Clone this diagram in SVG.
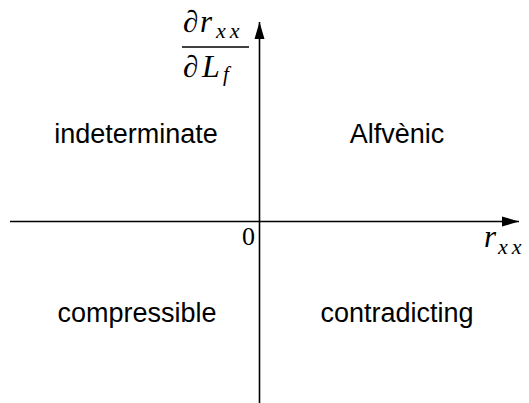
<svg xmlns="http://www.w3.org/2000/svg" width="529" height="403" viewBox="0 0 529 403">
<style>
.lbl{font-family:"Liberation Sans",Arial,sans-serif;font-size:27px;fill:#000;text-anchor:middle}
.m{font-family:"Liberation Serif","DejaVu Serif",serif;font-style:italic;fill:#000}
.ax{stroke:#000;stroke-width:1.6;fill:none}
</style>
<defs>
<marker id="ah" markerWidth="18" markerHeight="12" refX="17" refY="6" orient="auto" markerUnits="userSpaceOnUse">
<path d="M0,1 L17,6 L0,11 Z" fill="#000"/>
</marker>
</defs>
<rect width="529" height="403" fill="#fff"/>
<g id="connectors">
<line class="ax" x1="10" y1="221.5" x2="519" y2="221.5" marker-end="url(#ah)"/>
<line class="ax" x1="259.5" y1="403" x2="259.5" y2="22" marker-end="url(#ah)"/>
</g>
<g id="ylabel">
<text class="m" x="183" y="32" font-size="31">∂</text>
<text class="m" x="200" y="32" font-size="31">r</text>
<text class="m" x="216" y="38" font-size="22" letter-spacing="4">xx</text>
<line x1="182" y1="47" x2="249" y2="47" stroke="#000" stroke-width="1.4"/>
<text class="m" x="183" y="77" font-size="31">∂</text>
<text class="m" x="202" y="77" font-size="32">L</text>
<text class="m" x="223" y="81" font-size="21">f</text>
</g>
<g id="xlabel">
<text class="m" x="484" y="247" font-size="31">r</text>
<text class="m" x="498" y="254" font-size="22" letter-spacing="4">xx</text>
</g>
<g id="origin">
<text x="248.5" y="245" font-family="Liberation Serif,serif" font-size="26" text-anchor="middle">0</text>
</g>
<g id="q2"><text class="lbl" x="136" y="143">indeterminate</text></g>
<g id="q1"><text class="lbl" x="397" y="143">Alfvènic</text></g>
<g id="q3"><text class="lbl" x="137" y="322">compressible</text></g>
<g id="q4"><text class="lbl" x="397" y="322">contradicting</text></g>
</svg>
